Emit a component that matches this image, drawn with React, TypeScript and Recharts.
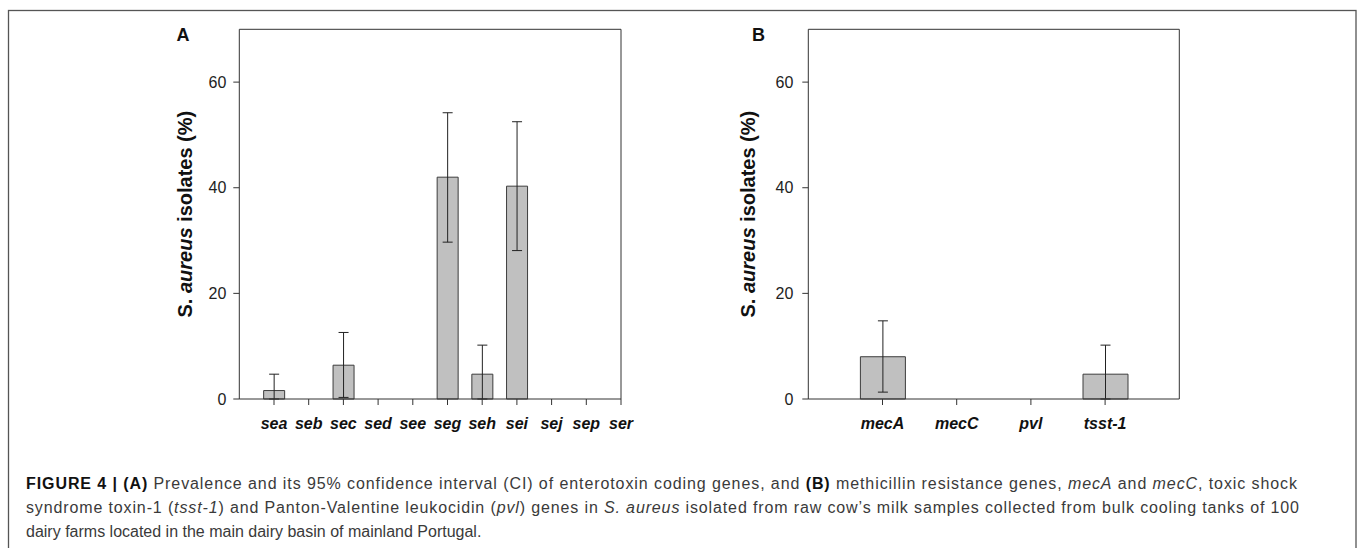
import React from 'react';
import { BarChart, Bar, XAxis, YAxis, ErrorBar, ReferenceLine } from 'recharts';

// Panel A: enterotoxin genes
const catsA = ['sea', 'seb', 'sec', 'sed', 'see', 'seg', 'seh', 'sei', 'sej', 'sep', 'ser'];
const prevA = [1.6, 0, 6.4, 0, 0, 42.0, 4.7, 40.3, 0, 0, 0];
const lowA: (number | null)[] = [0, null, 0.3, null, null, 29.7, 0, 28.1, null, null, null];
const highA: (number | null)[] = [4.7, null, 12.6, null, null, 54.2, 10.2, 52.5, null, null, null];

// Panel B: mecA, mecC, pvl, tsst-1
const catsB = ['mecA', 'mecC', 'pvl', 'tsst-1'];
const prevB = [8.0, 0, 0, 4.7];
const lowB: (number | null)[] = [1.3, null, null, 0];
const highB: (number | null)[] = [14.8, null, null, 10.2];

const yTicks = [0, 20, 40, 60];

function build(cats: string[], prev: number[], low: (number | null)[], high: (number | null)[]) {
  return cats.map((c, i) => ({
    pos: i + 1,
    name: c,
    value: prev[i],
    err: low[i] == null || high[i] == null ? null : [prev[i] - (low[i] as number), (high[i] as number) - prev[i]],
  }));
}

const dataA = build(catsA, prevA, lowA, highA);
const dataB = build(catsB, prevB, lowB, highB);

const AX = '#333';
const FONT = '"Liberation Sans", Arial, sans-serif';

const yLabel = (bx: number) => (props: any) => {
  const vb = props.viewBox || {};
  const cy = (vb.y ?? 0) + (vb.height ?? 0) / 2;
  return (
    <text
      x={bx}
      y={cy}
      textAnchor="middle"
      transform={`rotate(-90, ${bx}, ${cy})`}
      fontSize={20}
      fontWeight="bold"
      fill="#111"
      fontFamily={FONT}
    >
      <tspan>S. </tspan>
      <tspan fontStyle="italic">aureus</tspan>
      <tspan> isolates (%)</tspan>
    </text>
  );
};

function Panel(props: {
  data: any[];
  cats: string[];
  xMax: number;
  width: number;
  yAxisWidth: number;
  marginRight: number;
  barSize: number;
  labelX: number;
  tickMargin: number;
}) {
  const { data, cats, xMax, width, yAxisWidth, marginRight, barSize, labelX, tickMargin } = props;
  const ticks = cats.map((_, i) => i + 1);
  return (
    <BarChart
      width={width}
      height={460}
      data={data}
      margin={{ top: 29.3, right: marginRight, left: 0, bottom: 21 }}
    >
      <XAxis
        dataKey="pos"
        type="number"
        domain={[0, xMax]}
        ticks={ticks}
        interval={0}
        allowDataOverflow
        tickFormatter={(v: number) => cats[v - 1] ?? ''}
        height={40}
        tickSize={6}
        tickMargin={13}
        axisLine={{ stroke: AX }}
        tickLine={{ stroke: AX }}
        tick={{ fontSize: 16, fontWeight: 'bold', fontStyle: 'italic', fill: '#111', fontFamily: FONT }}
      />
      <YAxis
        type="number"
        domain={[0, 70]}
        ticks={yTicks}
        interval={0}
        width={yAxisWidth}
        tickSize={6}
        tickMargin={tickMargin}
        axisLine={{ stroke: AX }}
        tickLine={{ stroke: AX }}
        tick={{ fontSize: 16, fill: '#222', fontFamily: FONT }}
        label={yLabel(labelX)}
      />
      <ReferenceLine y={70} stroke={AX} strokeWidth={1} />
      <ReferenceLine x={xMax} stroke={AX} strokeWidth={1} />
      <Bar
        dataKey="value"
        fill="#c0c0c0"
        stroke="#3c3c3c"
        strokeWidth={1}
        barSize={barSize}
        isAnimationActive={false}
      >
        <ErrorBar dataKey="err" width={5} stroke="#222" strokeWidth={1} direction="y" />
      </Bar>
    </BarChart>
  );
}

export default function App() {
  return (
    <div
      style={{
        position: 'absolute',
        left: 0,
        top: 0,
        width: 1358,
        height: 548,
        overflow: 'hidden',
        background: '#fff',
        fontFamily: FONT,
      }}
    >
      <svg
        width={1358}
        height={548}
        style={{ position: 'absolute', left: 0, top: 0, pointerEvents: 'none' }}
      >
        <rect x={8.5} y={10.5} width={1347.5} height={600} fill="none" stroke="#555" strokeWidth={1.3} />
        <text x={183} y={41} textAnchor="middle" fontSize={18} fontWeight="bold" fill="#111" fontFamily={FONT}>
          A
        </text>
        <text x={758.5} y={41} textAnchor="middle" fontSize={18} fontWeight="bold" fill="#111" fontFamily={FONT}>
          B
        </text>
        <g fontFamily={FONT} fontSize={16} fill="#3a3a3a">
          <text x={26} y={488.5} textLength={1271} lengthAdjust="spacing">
            <tspan fontWeight="bold" fill="#111">FIGURE 4 | (A)</tspan>
            <tspan>{' Prevalence and its 95% confidence interval (CI) of enterotoxin coding genes, and '}</tspan>
            <tspan fontWeight="bold" fill="#111">(B)</tspan>
            <tspan>{' methicillin resistance genes, '}</tspan>
            <tspan fontStyle="italic">mecA</tspan>
            <tspan>{' and '}</tspan>
            <tspan fontStyle="italic">mecC</tspan>
            <tspan>{', toxic shock'}</tspan>
          </text>
          <text x={26} y={512.5} textLength={1273} lengthAdjust="spacing">
            <tspan>{'syndrome toxin-1 ('}</tspan>
            <tspan fontStyle="italic">tsst-1</tspan>
            <tspan>{') and Panton-Valentine leukocidin ('}</tspan>
            <tspan fontStyle="italic">pvl</tspan>
            <tspan>{') genes in '}</tspan>
            <tspan fontStyle="italic">S. aureus</tspan>
            <tspan>{' isolated from raw cow\u2019s milk samples collected from bulk cooling tanks of 100'}</tspan>
          </text>
          <text x={26} y={536.5}>
            dairy farms located in the main dairy basin of mainland Portugal.
          </text>
        </g>
      </svg>
      <div style={{ position: 'absolute', left: 0, top: 0 }}>
        <Panel
          data={dataA}
          cats={catsA}
          xMax={11}
          width={680}
          yAxisWidth={239.3}
          marginRight={59}
          barSize={21}
          labelX={192.5}
          tickMargin={7}
        />
      </div>
      <div style={{ position: 'absolute', left: 620, top: 0 }}>
        <Panel
          data={dataB}
          cats={catsB}
          xMax={5}
          width={600}
          yAxisWidth={188.3}
          marginRight={40.7}
          barSize={45}
          labelX={135.3}
          tickMargin={9}
        />
      </div>
    </div>
  );
}
